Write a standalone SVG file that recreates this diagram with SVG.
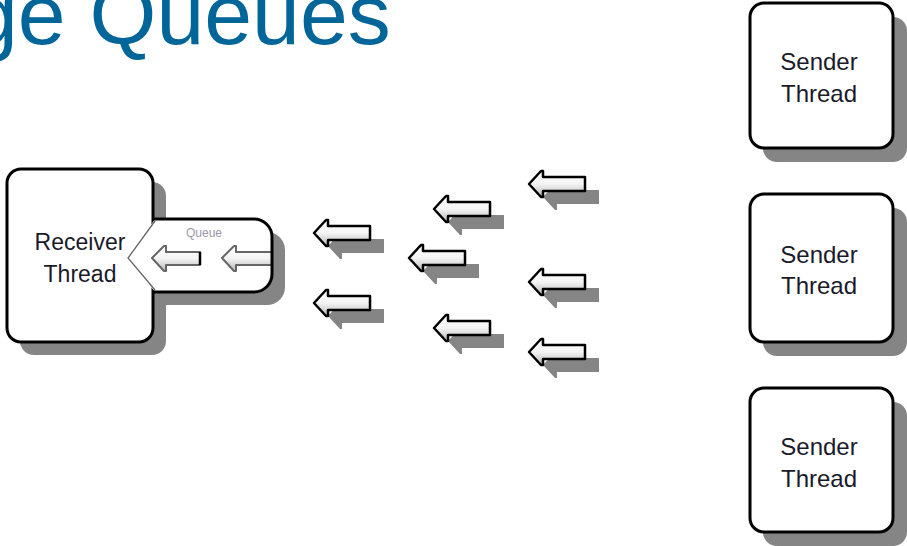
<svg xmlns="http://www.w3.org/2000/svg" width="907" height="546" viewBox="0 0 907 546">
<style>
.title{font-family:"Liberation Sans",Arial,sans-serif;font-size:86px;fill:#006699}
.lbl{font-family:"Liberation Sans",Arial,sans-serif;fill:#1a1a2a;text-anchor:middle}
.box{fill:#fff;stroke:#000;stroke-width:3}
.shadow{fill:#858585}
.arr{fill:url(#ag);stroke:#000;stroke-width:2.5;stroke-linejoin:round}
.qarr{fill:url(#ag);stroke:#666;stroke-width:2;stroke-linejoin:round}
</style>
<defs>
<linearGradient id="ag" x1="0" y1="0" x2="0" y2="1">
<stop offset="0" stop-color="#fff"/>
<stop offset="0.5" stop-color="#f4f4f4"/>
<stop offset="1" stop-color="#b8b8b8"/>
</linearGradient>
<path id="arrow" d="M0,0 L12,-13 L14,-13 L14,-7 L56,-7 L56,7 L14,7 L14,13 L12,13 Z"/>
</defs>
<rect width="907" height="546" fill="#fff"/>
<text class="title" x="-30" y="44">ge Queues</text>

<g id="receiver">
<rect class="shadow" x="20" y="182" width="146" height="173" rx="14"/>
<rect class="box" x="7" y="169" width="146" height="173" rx="14"/>
<text class="lbl" x="80" y="250" font-size="23">Receiver</text>
<text class="lbl" x="80" y="282" font-size="23">Thread</text>
</g>

<g id="queue">
<path class="shadow" d="M166,232 H267 A18,18 0 0 1 285,250 V287 A18,18 0 0 1 267,305 H166 Z"/>
<path d="M155,219 H254 A18,18 0 0 1 272,237 V274 A18,18 0 0 1 254,292 H155 L128,258 Z" fill="#fff"/>
<polyline points="155,221 128,258 155,290" fill="none" stroke="#666" stroke-width="1.3"/>
<text x="204" y="237" font-family="Liberation Sans,Arial,sans-serif" font-size="12" fill="#9a98a8" text-anchor="middle">Queue</text>
<path class="qarr" d="M152,258 L164,246 L166,246 L166,252 L200,252 L200,265 L166,265 L166,271 L164,271 Z"/>
<path d="M200,252 V265" stroke="#000" stroke-width="2.5"/>
<path class="qarr" d="M222,258 L234,246 L236,246 L236,252 L272,252 L272,265 L236,265 L236,271 L234,271 Z"/>
<path d="M153,219 H254 A18,18 0 0 1 272,237 V274 A18,18 0 0 1 254,292 H153" fill="none" stroke="#000" stroke-width="3"/>
</g>

<g id="connectors">
<use href="#arrow" class="shadow" x="328" y="246"/><use href="#arrow" class="arr" x="314" y="233"/>
<use href="#arrow" class="shadow" x="328" y="316"/><use href="#arrow" class="arr" x="314" y="303"/>
<use href="#arrow" class="shadow" x="423" y="271"/><use href="#arrow" class="arr" x="409" y="258"/>
<use href="#arrow" class="shadow" x="448" y="222"/><use href="#arrow" class="arr" x="434" y="209"/>
<use href="#arrow" class="shadow" x="448" y="341"/><use href="#arrow" class="arr" x="434" y="328"/>
<use href="#arrow" class="shadow" x="543" y="197"/><use href="#arrow" class="arr" x="529" y="184"/>
<use href="#arrow" class="shadow" x="543" y="295"/><use href="#arrow" class="arr" x="529" y="282"/>
<use href="#arrow" class="shadow" x="543" y="365"/><use href="#arrow" class="arr" x="529" y="352"/>
</g>

<g id="sender1">
<rect class="shadow" x="763" y="17" width="144" height="145" rx="14"/>
<rect class="box" x="750" y="3" width="143" height="145" rx="14"/>
<text class="lbl" x="819" y="70" font-size="24">Sender</text>
<text class="lbl" x="819" y="102" font-size="24">Thread</text>
</g>
<g id="sender2">
<rect class="shadow" x="763" y="208" width="144" height="148" rx="14"/>
<rect class="box" x="750" y="194" width="143" height="148" rx="14"/>
<text class="lbl" x="819" y="263" font-size="24">Sender</text>
<text class="lbl" x="819" y="294" font-size="24">Thread</text>
</g>
<g id="sender3">
<rect class="shadow" x="763" y="402" width="144" height="144" rx="14"/>
<rect class="box" x="750" y="388" width="143" height="144" rx="14"/>
<text class="lbl" x="819" y="455" font-size="24">Sender</text>
<text class="lbl" x="819" y="487" font-size="24">Thread</text>
</g>
</svg>
